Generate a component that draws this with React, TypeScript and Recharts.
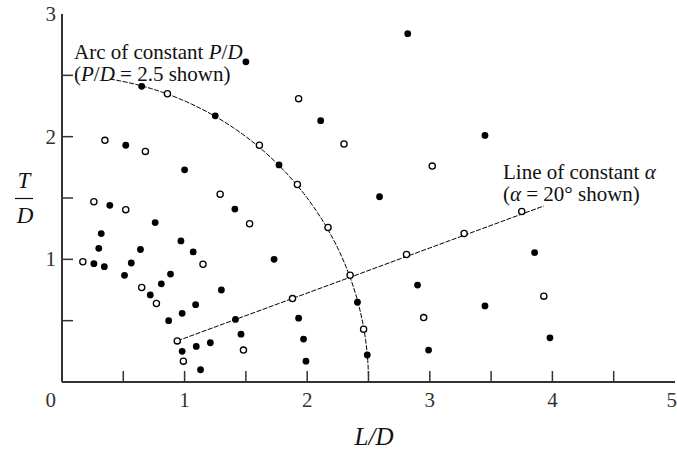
import React from 'react';
import { ComposedChart, Scatter, XAxis, YAxis } from 'recharts';

// ---- data ----
const filledLD = [1.50, 0.65, 1.25, 0.52, 1.00, 2.82, 2.11, 1.77, 2.59, 3.45, 0.39, 1.41, 0.76, 0.32, 0.97, 0.30, 0.64, 1.07, 0.26, 0.345, 0.565, 0.51, 0.885, 0.81, 0.72, 1.30, 1.09, 0.98, 0.87, 1.415, 1.46, 0.98, 1.095, 1.21, 1.13, 1.73, 2.90, 2.41, 1.93, 1.97, 2.99, 1.99, 2.49, 3.855, 3.45, 3.98];
const filledTD = [2.61, 2.41, 2.17, 1.93, 1.73, 2.84, 2.13, 1.77, 1.51, 2.01, 1.44, 1.41, 1.30, 1.21, 1.15, 1.09, 1.08, 1.06, 0.965, 0.94, 0.97, 0.87, 0.88, 0.80, 0.71, 0.75, 0.63, 0.56, 0.50, 0.51, 0.39, 0.25, 0.29, 0.32, 0.10, 1.00, 0.79, 0.65, 0.52, 0.35, 0.26, 0.17, 0.22, 1.055, 0.62, 0.36];

const openLD = [0.86, 1.61, 0.35, 0.68, 1.29, 1.93, 2.30, 3.02, 1.92, 0.26, 0.52, 1.53, 0.17, 1.15, 0.65, 0.77, 0.94, 1.48, 0.99, 2.17, 3.28, 2.81, 2.35, 1.88, 2.95, 2.46, 3.75, 3.93];
const openTD = [2.35, 1.93, 1.97, 1.88, 1.53, 2.31, 1.94, 1.76, 1.61, 1.47, 1.405, 1.29, 0.98, 0.96, 0.77, 0.64, 0.335, 0.26, 0.17, 1.26, 1.21, 1.04, 0.87, 0.68, 0.525, 0.43, 1.39, 0.70];

// line of constant alpha (endpoints)
const alphaLineLD = [0.94, 3.93];
const alphaLineTD = [0.335, 1.435];

// arc of constant P/D = 2.5 (from 81 deg down to the L/D axis)
const arcPD = 2.5;
const arcAnglesDeg = Array.from({ length: 82 }, (_, i) => 81 - i);

const xTicks = [0, 0.5, 1, 1.5, 2, 2.5, 3, 3.5, 4, 4.5, 5];
const yTicks = [0, 0.5, 1, 1.5, 2, 2.5, 3];
const xLabelValues = [0, 1, 2, 3, 4, 5];
const yLabelValues = [1, 2, 3];

// ---- built tables ----
const filledData = filledLD.map((x, i) => ({ x, y: filledTD[i] }));
const openData = openLD.map((x, i) => ({ x, y: openTD[i] }));
const alphaData = alphaLineLD.map((x, i) => ({ x, y: alphaLineTD[i] }));
const arcData = arcAnglesDeg.map((a) => ({
  x: arcPD * Math.cos((a * Math.PI) / 180),
  y: arcPD * Math.sin((a * Math.PI) / 180),
}));

const W = 677;
const H = 450;
const AXIS = '#333';
const TXT = '#333';
const FONT = 'Liberation Serif, DejaVu Serif, serif';
const TICK_LEN = 11;
const FS = 21;

const BottomTick = (p: any) => {
  const { x, y, payload } = p;
  const v = payload.value;
  const show = xLabelValues.includes(v);
  let tx = x;
  let anchor: 'start' | 'middle' | 'end' = 'middle';
  if (v === 0) {
    tx = x - 6;
    anchor = 'end';
  } else if (v === 5) {
    tx = W;
    anchor = 'end';
  }
  return (
    <g>
      {v > 0 && v < 5 && (
        <line x1={x} y1={y} x2={x} y2={y - TICK_LEN} stroke={AXIS} strokeWidth={1.5} />
      )}
      {show && (
        <text x={tx} y={y + 25} textAnchor={anchor} fontFamily={FONT} fontSize={FS} fill={TXT}>
          {v}
        </text>
      )}
    </g>
  );
};

const TopTick = (p: any) => {
  const { x, y, payload } = p;
  const v = payload.value;
  if (v <= 0 || v >= 5) return <g />;
  return <line x1={x} y1={y} x2={x} y2={y + TICK_LEN} stroke={AXIS} strokeWidth={1.5} />;
};

const LeftTick = (p: any) => {
  const { x, y, payload } = p;
  const v = payload.value;
  const show = yLabelValues.includes(v);
  return (
    <g>
      {v > 0 && v < 3 && (
        <line x1={x} y1={y} x2={x + TICK_LEN} y2={y} stroke={AXIS} strokeWidth={1.5} />
      )}
      {show && (
        <text x={x - 6} y={y + 7} textAnchor="end" fontFamily={FONT} fontSize={FS} fill={TXT}>
          {v}
        </text>
      )}
    </g>
  );
};

const RightTick = (p: any) => {
  const { x, y, payload } = p;
  const v = payload.value;
  if (v <= 0 || v >= 3) return <g />;
  return <line x1={x} y1={y} x2={x - TICK_LEN} y2={y} stroke={AXIS} strokeWidth={1.5} />;
};

const FilledDot = (p: any) => <circle cx={p.cx} cy={p.cy} r={3.4} fill="#000" />;
const OpenDot = (p: any) => (
  <circle cx={p.cx} cy={p.cy} r={3.1} fill="#fff" stroke="#000" strokeWidth={1.3} />
);
const NoDot = () => <g />;

const axisLine = { stroke: AXIS, strokeWidth: 2 };

export default function App() {
  return (
    <div style={{ position: 'absolute', left: 0, top: 0, width: W, height: H, background: '#fff' }}>
      <ComposedChart width={W} height={H} margin={{ top: 14, right: 2, bottom: 0, left: 0 }}>
        <XAxis
          xAxisId="b"
          type="number"
          dataKey="x"
          domain={[0, 5]}
          ticks={xTicks}
          interval={0}
          allowDataOverflow
          orientation="bottom"
          height={68}
          tickSize={0}
          tickMargin={0}
          tickLine={false}
          axisLine={axisLine}
          tick={BottomTick}
        />
        <XAxis
          xAxisId="t"
          type="number"
          dataKey="x"
          domain={[0, 5]}
          ticks={xTicks}
          interval={0}
          allowDataOverflow
          orientation="top"
          height={0}
          tickSize={0}
          tickMargin={0}
          tickLine={false}
          axisLine={axisLine}
          tick={TopTick}
        />
        <YAxis
          yAxisId="l"
          type="number"
          dataKey="y"
          domain={[0, 3]}
          ticks={yTicks}
          interval={0}
          allowDataOverflow
          orientation="left"
          width={62}
          tickSize={0}
          tickMargin={0}
          tickLine={false}
          axisLine={axisLine}
          tick={LeftTick}
        />
        <YAxis
          yAxisId="r"
          type="number"
          dataKey="y"
          domain={[0, 3]}
          ticks={yTicks}
          interval={0}
          allowDataOverflow
          orientation="right"
          width={0}
          tickSize={0}
          tickMargin={0}
          tickLine={false}
          axisLine={axisLine}
          tick={RightTick}
        />
        <Scatter
          xAxisId="b"
          yAxisId="l"
          data={arcData}
          line={{ stroke: '#000', strokeWidth: 1, strokeDasharray: '5 1.5' }}
          shape={NoDot}
          isAnimationActive={false}
        />
        <Scatter
          xAxisId="b"
          yAxisId="l"
          data={alphaData}
          line={{ stroke: '#000', strokeWidth: 1, strokeDasharray: '5 1.5' }}
          shape={NoDot}
          isAnimationActive={false}
        />
        <Scatter xAxisId="b" yAxisId="l" data={filledData} shape={FilledDot} isAnimationActive={false} />
        <Scatter xAxisId="b" yAxisId="l" data={openData} shape={OpenDot} isAnimationActive={false} />
      </ComposedChart>
      <svg
        width={W}
        height={H}
        style={{ position: 'absolute', left: 0, top: 0, pointerEvents: 'none' }}
      >
        <g fontFamily={FONT} fontSize={FS} fill="#111">
          <text x={74} y={59}>
            Arc of constant <tspan fontStyle="italic">P</tspan>/<tspan fontStyle="italic">D</tspan>
          </text>
          <text x={74} y={81}>
            (<tspan fontStyle="italic">P</tspan>/<tspan fontStyle="italic">D</tspan> = 2.5 shown)
          </text>
          <text x={503} y={179}>
            Line of constant <tspan fontStyle="italic">α</tspan>
          </text>
          <text x={503} y={201}>
            (<tspan fontStyle="italic">α</tspan> = 20° shown)
          </text>
        </g>
        <g fontFamily={FONT} fontSize={23} fill="#111" fontStyle="italic">
          <text x={24} y={188} textAnchor="middle">T</text>
          <line x1={15} y1={198.5} x2={33} y2={198.5} stroke="#111" strokeWidth={1.2} />
          <text x={25} y={223} textAnchor="middle">D</text>
          <text x={374} y={445} textAnchor="middle" fontSize={25}>
            L/D
          </text>
        </g>
      </svg>
    </div>
  );
}
